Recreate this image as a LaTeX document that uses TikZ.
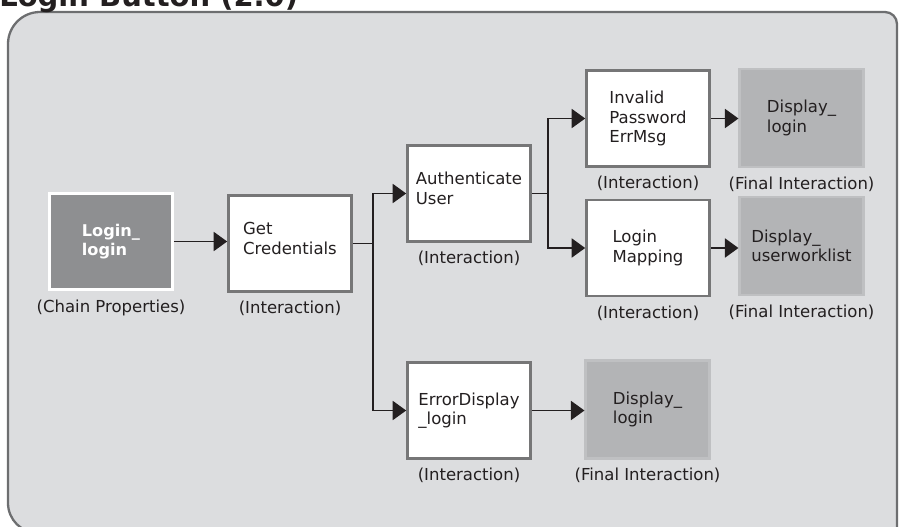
\documentclass[tikz,border=0pt]{standalone}
\usepackage{fontspec}
\setmainfont{DejaVu Sans}
\usetikzlibrary{arrows.meta, positioning}
\definecolor{cPanel}{HTML}{DCDDDF}
\definecolor{cFrame}{HTML}{6D6E70}
\definecolor{cChain}{HTML}{8E8F91}
\definecolor{cFinal}{HTML}{B3B4B6}
\definecolor{cFinalEdge}{HTML}{BFC0C2}
\definecolor{cEdge}{HTML}{767677}
\definecolor{cInk}{HTML}{231F20}
\tikzset{
	chainbox/.style={rectangle, draw=white, line width=1.6pt, fill=cChain, minimum width=2.46cm, minimum height=1.92cm, align=left, text=white, font=\fontsize{9.2}{10.8}\selectfont\bfseries},
	actbox/.style  ={rectangle, draw=cEdge, line width=1.5pt, fill=white, minimum width=2.46cm, minimum height=1.92cm, align=left},
	finalbox/.style={rectangle, draw=cFinalEdge, line width=1.2pt, fill=cFinal, minimum width=2.48cm, minimum height=1.96cm, align=left},
	kind/.style    ={inner sep=1pt},
	wire/.style    ={line width=1.1pt, draw=cInk},
	flow/.style    ={-{Triangle[length=0.27cm, width=0.38cm]}, wire},
}
\begin{document}
\begin{tikzpicture}[x=0.02cm, y=-0.02cm, font=\fontsize{9.4}{11}\selectfont, text=cInk]
	\useasboundingbox (0,0) rectangle (899,527);
	% panel, cut by the page at the bottom
	\draw[cFrame, fill=cPanel, line width=1.3pt] (897,300) [rounded corners=0.24cm] -- (897,12) -- (300,12)
		[rounded corners=0.64cm] -- (8,12) -- (8,300) [rounded corners=0.6cm] -- (8,533) -- (300,533) [sharp corners] -- (897,533) -- cycle;
	\node[anchor=base west, inner sep=0pt, font=\fontsize{16.5}{18}\selectfont\bfseries] (title) at (-1,7) {Login Button (2.0)};
	\node[chainbox] (login) at (111,241.5) {Login\_\\login};
	\node[actbox] (getcred) at (290,243.5) {Get\\Credentials\\[-5pt]};
	\node[actbox] (auth) at (469,193.5) {Authenticate\\User\\[-5pt]};
	\node[actbox] (invalid) at (648,118.5) {Invalid\\Password\\ErrMsg};
	\node[finalbox] (displogin) at (801.5,118) {Display\_\\login};
	\node[actbox] (mapping) at (648,248) {Login\\Mapping};
	\node[finalbox] (dispwork) at (801.5,246) {Display\_\\userworklist};
	\node[actbox] (errdisp) at (469,410.5) {ErrorDisplay\\\_login};
	\node[finalbox] (disperr) at (647.5,409.5) {Display\_\\login};
	\foreach \n/\t in {login/Chain Properties, getcred/Interaction, auth/Interaction, invalid/Interaction, mapping/Interaction,
		errdisp/Interaction, displogin/Final Interaction, dispwork/Final Interaction, disperr/Final Interaction} {
		\node[kind, below=0.13cm of \n] (\n-kind) {(\t)};
	}
	\draw[flow] (login.east) -- (login.east -| getcred.west);
	\draw[wire] (getcred.east) -- ++(20,0) coordinate (fork1);
	\draw[flow] (fork1) |- (auth.west);
	\draw[flow] (fork1) |- (errdisp.west);
	\draw[wire] (auth.east) -- ++(16,0) coordinate (fork2);
	\draw[flow] (fork2) |- (invalid.west);
	\draw[flow] (fork2) |- (mapping.west);
	\draw[flow] (invalid.east) -- (invalid.east -| displogin.west);
	\draw[flow] (mapping.east) -- (mapping.east -| dispwork.west);
	\draw[flow] (errdisp.east) -- (errdisp.east -| disperr.west);
\end{tikzpicture}
\end{document}
